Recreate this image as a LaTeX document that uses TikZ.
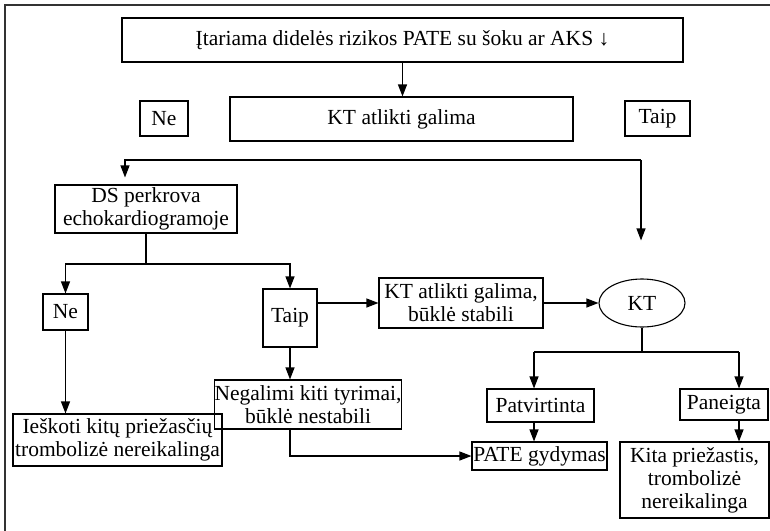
\documentclass[tikz,border=0pt]{standalone}
\usepackage{fontspec}
\setmainfont{Liberation Serif}
\usetikzlibrary{arrows.meta,shapes.geometric}
\begin{document}
\begin{tikzpicture}[x=1pt,y=-1pt,
  box/.style={draw, line width=1.1pt, inner sep=0pt, align=center,
    font=\fontsize{21.5}{23}\selectfont},
  oval/.style={box, ellipse},
  arr/.style={-{Triangle[length=12pt,width=9pt]}, line width=1.1pt},
  ln/.style={line width=1.1pt}]
\useasboundingbox (0,0) rectangle (770,530);
% outer frame, running off the page on the right and at the bottom
\begin{scope}
  \clip (0,0) rectangle (770,530);
  \draw[ln, draw=black!80] (5,5) rectangle (790,550);
\end{scope}

% nodes
\node[box, minimum width=561pt, minimum height=44pt] (top) at (402.5,40)
  {Įtariama didelės rizikos PATE su šoku ar AKS ↓};
\node[box, minimum width=343pt, minimum height=44pt] (kt1) at (401.5,119) {KT atlikti galima};
\node[box, minimum width=48pt, minimum height=35pt] (ne1) at (164,118.5) {Ne};
\node[box, minimum width=65pt, minimum height=35pt] (taip1) at (657.5,118.5) {Taip};

\node[box, minimum width=182pt, minimum height=48pt] (ds) at (146,209)
  {DS perkrova\\echokardiogramoje};
\node[box, minimum width=45pt, minimum height=36pt] (ne2) at (65.5,312) {Ne};
\node[box, minimum width=54pt, minimum height=58pt] (taip2) at (290,318) {Taip};
\node[box, minimum width=164pt, minimum height=50pt] (kt2) at (461,303)
  {KT atlikti galima,\\būklė stabili};
\node[oval, minimum width=86pt, minimum height=48pt] (kt) at (642,303) {KT};

\node[box, minimum width=209pt, minimum height=52pt] (iesk) at (117.5,440)
  {Ieškoti kitų priežasčių\\trombolizė nereikalinga};
\node[box, minimum width=168pt, minimum height=49pt] (neg) at (308,404.5)
  {Negalimi kiti tyrimai,\\būklė nestabili};

\node[box, minimum width=107pt, minimum height=33pt] (patv) at (540.5,405.5) {Patvirtinta};
\node[box, minimum width=88pt, minimum height=31pt] (pan) at (724,404.5) {Paneigta};
\node[box, minimum width=135pt, minimum height=28pt] (pate) at (539.5,456) {PATE gydymas};
\node[box, minimum width=149pt, minimum height=76pt] (kita) at (694.5,480)
  {Kita priežastis,\\trombolizė\\nereikalinga};

% branching points
\coordinate (s1) at (641,160);
\coordinate (s1l) at (125,160);
\coordinate (s2) at (146,264);
\coordinate (s3l) at (534,352);
\coordinate (s3r) at (739,352);

% connectors
\draw[arr] (top.south) -- (top.south |- kt1.north);
\draw[arr, shorten >=7pt] (s1) -- (s1l) -- (s1l |- ds.north);
\draw[arr, shorten >=38pt] (s1) -- (s1 |- kt.north);

\draw[ln] (ds.south) -- (s2);
\draw[arr] (s2) -| (ne2.north);
\draw[arr] (s2) -| (taip2.north);
\draw[arr] (ne2.south) -- (ne2.south |- iesk.north);
\draw[arr] (taip2.south) -- (taip2.south |- neg.north);
\draw[arr] (kt2.west -| taip2.east) -- (kt2.west);
\draw[arr] (kt2.east) -- (kt.west);
\draw[arr] (taip2.south |- neg.south) |- (pate.west);

\draw[ln] (kt.south) -- (kt.south |- s3l);
\draw[ln] (s3l) -- (s3r);
\draw[arr] (s3l) -- (s3l |- patv.north);
\draw[arr] (s3r) -- (s3r |- pan.north);
\draw[arr] (s3l |- patv.south) -- (s3l |- pate.north);
\draw[arr] (s3r |- pan.south) -- (s3r |- kita.north);
\end{tikzpicture}
\end{document}
